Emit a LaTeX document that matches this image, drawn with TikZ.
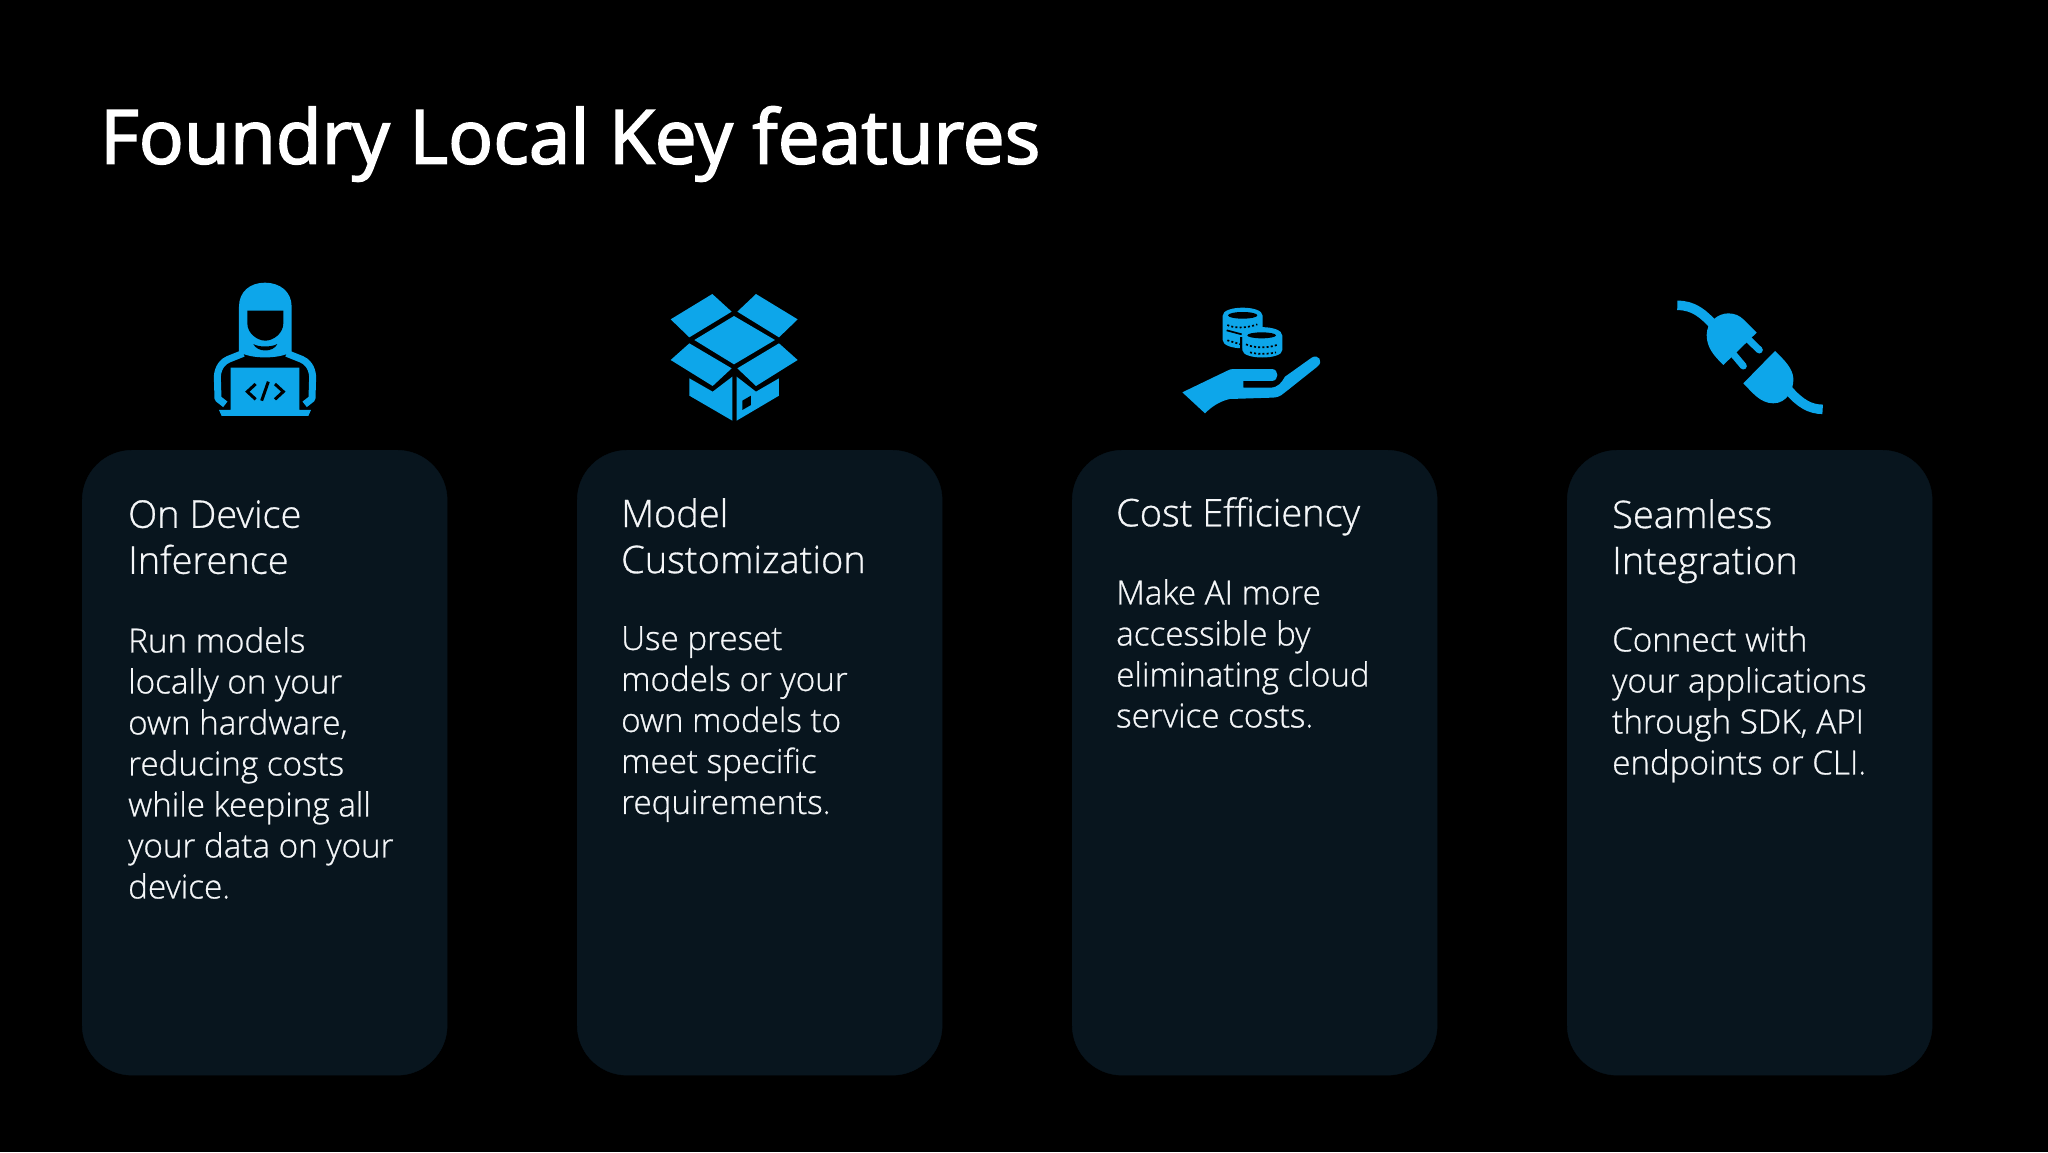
\documentclass[tikz,border=0pt]{standalone}
\usepackage{fontspec}
\setmainfont{Open Sans Light}[RawFeature={embolden=0.8}]
\newfontfamily\titlefont{Open Sans}[RawFeature={embolden=2.2}]
\usepackage{tikz}
\usetikzlibrary{positioning}
\definecolor{cardfill}{HTML}{08151E}
\definecolor{iconblue}{HTML}{0DA6EA}
\definecolor{inktext}{HTML}{F4F6F8}
\tikzstyle{card}=[draw=cardfill, fill=cardfill, rounded corners=50pt, minimum width=365pt, minimum height=625pt, anchor=north west]
\tikzstyle{headline}=[text=inktext, font=\fontsize{38}{46}\selectfont, align=left, inner sep=0pt, anchor=north west]
\tikzstyle{bodyline}=[text=inktext, font=\fontsize{33.2}{41}\selectfont, align=left, inner sep=0pt, anchor=north west]
\tikzstyle{zoomed}=[x=0.3333pt, y=-0.3333pt]
\begin{document}
\begin{tikzpicture}[x=1pt, y=-1pt]
      \useasboundingbox (0,0) rectangle (2048,1152);
      \fill[black] (0,0) rectangle (2048,1152);

      \node at (100,144) [anchor=west, inner sep=0pt, text=white, font=\titlefont\fontsize{74.8}{80}\selectfont] (title) {Foundry Local Key features};

      \node at (82,450) [card] (cardA) {};
      \node at (577,450) [card] (cardB) {};
      \node at (1072,450) [card] (cardC) {};
      \node at (1567,450) [card] (cardD) {};

      \node at (128,500) [headline] (headA) {On Device\\Inference};
      \node at (128,627) [bodyline] (bodyA) {Run models\\locally on your\\own hardware,\\reducing costs\\while keeping all\\your data on your\\device.};

      \node at (621,498) [headline] (headB) {Model\\Customization};
      \node at (621,626) [bodyline] (bodyB) {Use preset\\models or your\\own models to\\meet specific\\requirements.};

      \node at (1116,497) [headline] (headC) {Cost Efficiency};
      \node at (1116,579) [bodyline] (bodyC) {Make AI more\\accessible by\\eliminating cloud\\service costs.};

      \node at (1612,499) [headline] (headD) {Seamless\\Integration};
      \node at (1612,626) [bodyline] (bodyD) {Connect with\\your applications\\through SDK, API\\endpoints or CLI.};

      % developer
      \begin{scope}[shift={(190,270)}, zoomed]
        \draw[iconblue, line width=7pt, line join=round] (106,403) -- (84,386) -- (82,320) .. controls (84,290) and (100,274) .. (115,268) -- (160,250);
        \draw[iconblue, line width=7pt, line join=round] (344,403) -- (366,386) -- (368,320) .. controls (366,290) and (350,274) .. (335,268) -- (290,250);
        \fill[iconblue] (147,245) -- (147,110) .. controls (147,65) and (180,38) .. (225,38) .. controls (270,38) and (305,65) .. (305,110) -- (305,245) .. controls (270,268) and (180,268) .. (147,245) -- cycle;
        \fill[black] (172,122) -- (280,122) -- (280,160) .. controls (280,190) and (250,212) .. (226,212) .. controls (202,212) and (172,190) .. (172,160) -- cycle;
        \fill[black] (190,222) .. controls (205,232) and (245,232) .. (262,222) .. controls (250,248) and (202,248) .. (190,222) -- cycle;
        \fill[iconblue] (122,293) -- (328,293) -- (328,420) -- (363,420) -- (355,438) -- (95,438) -- (87,420) -- (122,420) -- cycle;
        \draw[black, line width=3pt] (197,342) -- (172,365) -- (197,388);
        \draw[black, line width=3pt] (235,335) -- (215,392);
        \draw[black, line width=3pt] (255,342) -- (280,365) -- (255,388);
      \end{scope}

      % box
      \begin{scope}[shift={(660,280)}, zoomed]
        \fill[iconblue] (32,118) -- (157,42) -- (215,95) -- (88,172) -- cycle;
        \fill[iconblue] (232,95) -- (288,42) -- (413,118) -- (357,172) -- cycle;
        \fill[iconblue] (222,108) -- (345,180) -- (222,253) -- (103,180) -- cycle;
        \fill[iconblue] (32,240) -- (88,190) -- (215,265) -- (158,318) -- cycle;
        \fill[iconblue] (232,265) -- (357,190) -- (413,240) -- (288,318) -- cycle;
        \fill[iconblue] (88,295) -- (158,335) -- (217,290) -- (217,422) -- (88,347) -- cycle;
        \fill[iconblue] (230,290) -- (288,335) -- (357,295) -- (357,347) -- (230,422) -- cycle;
        \fill[black] (247,362) -- (273,347) -- (273,375) -- (247,390) -- cycle;
      \end{scope}

      % coins and hand
      \begin{scope}[shift={(1170,295)}, zoomed]
        \fill[iconblue] (158,62) -- (158,135) .. controls (158,150) and (185,160) .. (218,160) -- (278,100) -- (278,62) .. controls (278,30) and (158,30) .. (158,62) -- cycle;
        \fill[black] (218,61) ellipse [x radius=44, y radius=10];
        \draw[black, line width=1.7pt, dash pattern=on 2pt off 2.2pt] (172,90) .. controls (190,100) and (230,100) .. (262,88);
        \draw[black, line width=1.7pt] (170,106) -- (215,118);
        \draw[black, line width=1.7pt, dash pattern=on 2pt off 2.2pt] (172,136) -- (212,148);
        \draw[black, line width=2.5pt] (214,126) -- (214,172) .. controls (230,196) and (320,196) .. (340,172) -- (340,126);
        \fill[iconblue] (217,122) -- (217,165) .. controls (217,195) and (337,195) .. (337,165) -- (337,122) .. controls (337,88) and (217,88) .. (217,122) -- cycle;
        \fill[black] (275,121) ellipse [x radius=43, y radius=9];
        \draw[black, line width=1.7pt, dash pattern=on 2pt off 2.2pt] (228,148) .. controls (250,160) and (300,160) .. (325,148);
        \draw[black, line width=1.7pt, dash pattern=on 2pt off 2.2pt] (240,172) .. controls (260,178) and (295,178) .. (318,172);
        \fill[iconblue] (37,292) -- (170,228) .. controls (178,224) and (182,222) .. (190,222) -- (305,222) .. controls (328,222) and (328,258) .. (305,258) -- (220,258) -- (220,278) -- (300,278) .. controls (325,278) and (335,262) .. (345,245) -- (425,188) .. controls (445,175) and (462,200) .. (442,215) -- (345,292) .. controls (330,305) and (320,308) .. (305,308) -- (180,312) .. controls (150,318) and (125,335) .. (105,355) -- cycle;
      \end{scope}

      % plug
      \begin{scope}[shift={(1660,290)}, zoomed]
        \draw[iconblue, line width=9.5pt] (52,46) .. controls (100,46) and (130,70) .. (165,110);
        \draw[iconblue, line width=9.5pt] (385,300) .. controls (420,340) and (450,358) .. (488,358);
        \draw[iconblue, line width=7pt, line cap=round] (262,145) -- (298,180);
        \draw[iconblue, line width=7pt, line cap=round] (218,190) -- (250,228);
        \fill[iconblue] (290,128) -- (190,225) .. controls (165,200) and (140,175) .. (140,135) .. controls (140,95) and (175,70) .. (205,70) .. controls (225,70) and (240,78) .. (250,88) -- cycle;
        \fill[iconblue] (345,183) -- (250,280) .. controls (275,305) and (300,340) .. (340,340) .. controls (380,340) and (402,300) .. (400,265) .. controls (398,235) and (375,212) .. (345,183) -- cycle;
      \end{scope}
    \end{tikzpicture}
\end{document}
